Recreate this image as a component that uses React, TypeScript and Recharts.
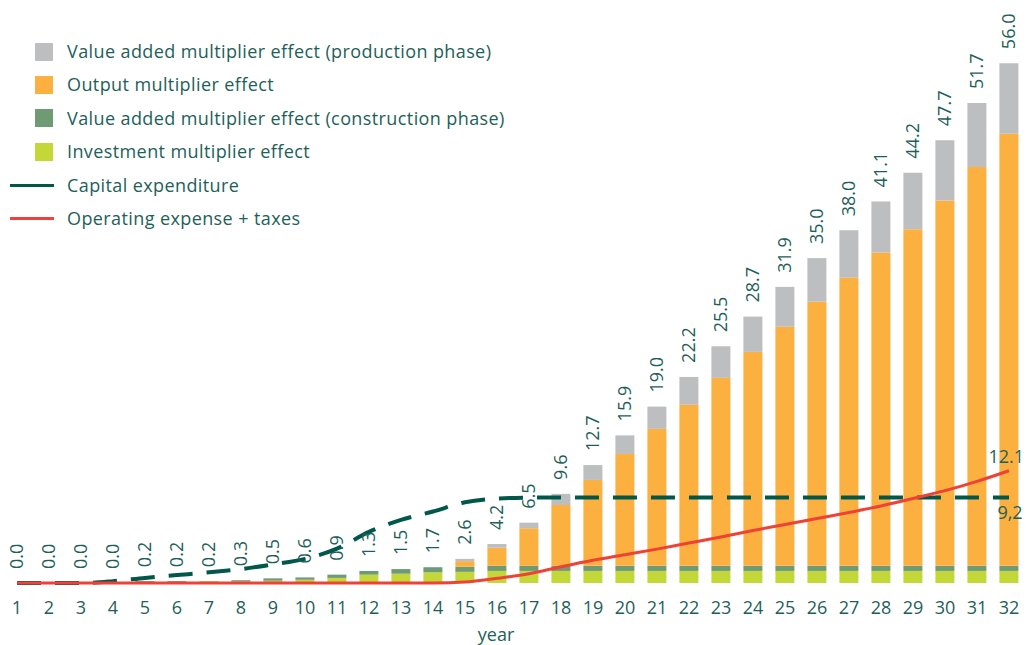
import { Bar, ComposedChart, Label, LabelList, Legend, Line, XAxis, YAxis } from "recharts"

const years = [
  "1", "2", "3", "4", "5", "6", "7", "8", "9", "10", "11", "12", "13", "14", "15", "16",
  "17", "18", "19", "20", "21", "22", "23", "24", "25", "26", "27", "28", "29", "30", "31", "32",
]

// stacked bar segments, bottom to top
const investment = [
  0, 0, 0, 0, 0.1, 0, 0.2, 0.15, 0.25, 0.35, 0.55, 0.9, 1.0, 1.15, 1.2, 1.3,
  1.3, 1.3, 1.3, 1.3, 1.3, 1.3, 1.3, 1.3, 1.3, 1.3, 1.3, 1.3, 1.3, 1.3, 1.3, 1.3,
]
const vaConstruction = [
  0, 0, 0, 0, 0.1, 0.2, 0, 0.15, 0.25, 0.25, 0.35, 0.4, 0.5, 0.55, 0.55, 0.55,
  0.55, 0.55, 0.55, 0.55, 0.55, 0.55, 0.55, 0.55, 0.55, 0.55, 0.55, 0.55, 0.55, 0.55, 0.55, 0.55,
]
const output = [
  0, 0, 0, 0, 0, 0, 0, 0, 0, 0, 0, 0, 0, 0, 0.6, 1.95,
  4.05, 6.55, 9.25, 12.05, 14.75, 17.35, 20.25, 23.05, 25.75, 28.45, 31.05, 33.75, 36.25, 39.35, 42.95, 46.55,
]
const vaProduction = [
  0, 0, 0, 0, 0, 0, 0, 0, 0, 0, 0, 0, 0, 0, 0.25, 0.4,
  0.6, 1.2, 1.6, 2.0, 2.4, 3.0, 3.4, 3.8, 4.3, 4.7, 5.1, 5.5, 6.1, 6.5, 6.9, 7.6,
]
const totals = [
  0.0, 0.0, 0.0, 0.0, 0.2, 0.2, 0.2, 0.3, 0.5, 0.6, 0.9, 1.3, 1.5, 1.7, 2.6, 4.2,
  6.5, 9.6, 12.7, 15.9, 19.0, 22.2, 25.5, 28.7, 31.9, 35.0, 38.0, 41.1, 44.2, 47.7, 51.7, 56.0,
]
const capex = [
  0, 0, 0, 0.2, 0.55, 0.85, 1.15, 1.5, 2.0, 2.6, 3.7, 5.5, 6.8, 7.7, 8.7, 9.1,
  9.2, 9.2, 9.2, 9.2, 9.2, 9.2, 9.2, 9.2, 9.2, 9.2, 9.2, 9.2, 9.2, 9.2, 9.2, 9.2,
]
const opex = [
  0, 0, 0, 0, 0, 0, 0, 0, 0, 0, 0, 0, 0, 0, 0.1, 0.5,
  1.0, 1.75, 2.45, 3.05, 3.65, 4.3, 4.95, 5.65, 6.3, 6.95, 7.6, 8.3, 9.1, 9.95, 10.95, 12.1,
]

const TEXT = "#1e5f5a"
const FONT = "'Open Sans', sans-serif"
const FS = 18
const GRAY = "#bdbec0"
const ORANGE = "#fbb040"
const GREEN = "#6e9a74"
const LIME = "#c3d838"
const DARK = "#02574b"
const RED = "#ef4136"

const legendItems = [
  { name: "Value added multiplier effect (production phase)", color: GRAY, kind: "square" },
  { name: "Output multiplier effect", color: ORANGE, kind: "square" },
  { name: "Value added multiplier effect (construction phase)", color: GREEN, kind: "square" },
  { name: "Investment multiplier effect", color: LIME, kind: "square" },
  { name: "Capital expenditure", color: DARK, kind: "line" },
  { name: "Operating expense + taxes", color: RED, kind: "line" },
]

const data = years.map((year, i) => ({
  year,
  investment: investment[i],
  vaConstruction: vaConstruction[i],
  output: output[i],
  vaProduction: vaProduction[i],
  total: totals[i],
  capex: capex[i],
  opex: opex[i],
}))

function pos(props: any) {
  const vb = props.viewBox || {}
  const x = props.x ?? vb.x
  const y = props.y ?? vb.y
  return { x: Number(x), y: Number(y) }
}

function TotalLabel(props: any) {
  const { x, y } = pos(props)
  if (isNaN(x) || isNaN(y)) return null
  const ty = y - 14
  return (
    <text
      x={x}
      y={ty}
      dy="0.36em"
      transform={`rotate(-90 ${x} ${ty})`}
      textAnchor="start"
      fill={TEXT}
      fontSize={FS}
      fontFamily={FONT}
    >
      {Number(props.value).toFixed(1)}
    </text>
  )
}

function OpexEndLabel(props: any) {
  if (props.index !== years.length - 1) return null
  const { x, y } = pos(props)
  return (
    <text x={1024} y={y - 8} textAnchor="end" fill={TEXT} fontSize={FS} fontFamily={FONT}>
      {Number(props.value).toFixed(1)}
    </text>
  )
}

function CapexEndLabel(props: any) {
  if (props.index !== years.length - 1) return null
  const { x, y } = pos(props)
  return (
    <text x={x + 1} y={y + 21} textAnchor="middle" fill={TEXT} fontSize={FS} fontFamily={FONT}>
      {Number(props.value).toFixed(1).replace(".", ",")}
    </text>
  )
}

function LegendBox() {
  return (
    <div style={{ fontFamily: FONT, fontSize: FS, color: TEXT, position: "relative", letterSpacing: 0.4 }}>
      {legendItems.map((item) => (
        <div key={item.name} style={{ position: "relative", height: 33.4 }}>
          {item.kind === "square" ? (
            <span style={{ position: "absolute", left: 35, top: 7.7, width: 18, height: 18, background: item.color }} />
          ) : (
            <span style={{ position: "absolute", left: 10, top: 15.2, width: 44, height: 3, background: item.color }} />
          )}
          <span style={{ position: "absolute", left: 67, top: 0, lineHeight: "33.4px", whiteSpace: "nowrap" }}>
            {item.name}
          </span>
        </div>
      ))}
    </div>
  )
}

export default function App() {
  return (
    <div style={{ position: "absolute", left: 0, top: 0, background: "#fff" }}>
      <ComposedChart
        width={1026}
        height={645}
        data={data}
        margin={{ top: 26, right: 1, bottom: 2, left: 1 }}
        barCategoryGap="20%"
      >
        <XAxis
          dataKey="year"
          axisLine={false}
          tickLine={false}
          tickSize={0}
          tickMargin={18}
          height={60}
          interval={0}
          tick={{ fill: TEXT, fontSize: FS, fontFamily: FONT }}
        >
          <Label value="year" position="insideBottom" offset={2} dx={-17} fill={TEXT} fontSize={FS} fontFamily={FONT} />
        </XAxis>
        <YAxis hide domain={[0, 60]} />
        <Legend
          layout="horizontal"
          verticalAlign="middle"
          align="center"
          content={() => <LegendBox />}
          wrapperStyle={{ top: 35, left: 0, width: 560 }}
        />
        <Bar dataKey="investment" stackId="a" fill={LIME} isAnimationActive={false} />
        <Bar dataKey="vaConstruction" stackId="a" fill={GREEN} isAnimationActive={false} />
        <Bar dataKey="output" stackId="a" fill={ORANGE} isAnimationActive={false} />
        <Bar dataKey="vaProduction" stackId="a" fill={GRAY} isAnimationActive={false} />
        <Line
          dataKey="total"
          stroke="none"
          dot={false}
          activeDot={false}
          legendType="none"
          isAnimationActive={false}
        >
          <LabelList dataKey="total" content={TotalLabel} />
        </Line>
        <Line
          type="monotone"
          dataKey="capex"
          stroke={DARK}
          strokeWidth={4}
          strokeDasharray="24 14"
          dot={false}
          activeDot={false}
          isAnimationActive={false}
        >
          <LabelList dataKey="capex" content={CapexEndLabel} />
        </Line>
        <Line
          type="monotone"
          dataKey="opex"
          stroke={RED}
          strokeWidth={3}
          dot={false}
          activeDot={false}
          isAnimationActive={false}
        >
          <LabelList dataKey="opex" content={OpexEndLabel} />
        </Line>
      </ComposedChart>
    </div>
  )
}
